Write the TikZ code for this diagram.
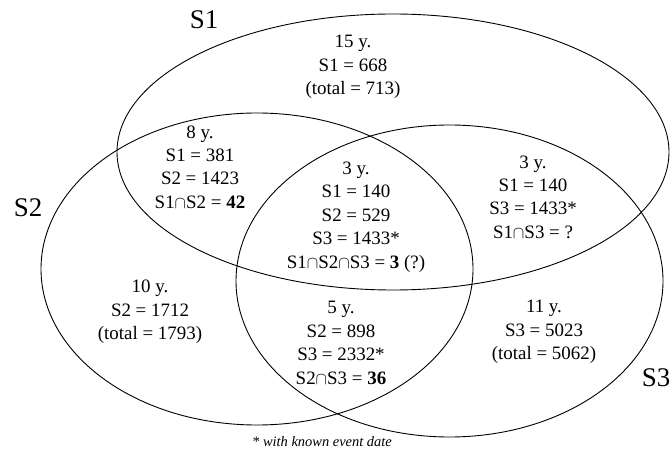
\documentclass[tikz,border=0pt]{standalone}
\usepackage{fontspec}
\setmainfont{Liberation Serif}
\begin{document}
\begin{tikzpicture}[x=1bp,y=-1bp,font=\fontsize{19}{23.5}\selectfont,
  region/.style={align=center,inner sep=0pt},
  setlabel/.style={font=\fontsize{27}{30}\selectfont,inner sep=0pt}]
  \useasboundingbox (0,0) rectangle (670,450);
  % the three sets
  \foreach \cx/\cy/\rx/\ry in {393/152/276/138,257/269/216/156,449.5/281/213.5/156}
    \draw[line width=0.9bp] (\cx,\cy) ellipse [x radius=\rx, y radius=\ry];
  \node[setlabel] (labA) at (204,20) {S1};
  \node[setlabel] (labB) at (28,208) {S2};
  \node[setlabel] (labC) at (656,378) {S3};
  % counts per region
  \foreach \n/\x/\y/\txt in {
    onlyA/353/67/{15 y.\\S1 = 668\\(total = 713)},
    AB/200/167/{8 y.\\S1 = 381\\S2 = 1423\\S1$\cap$S2 = \textbf{42}},
    ABC/356/217/{3 y.\\S1 = 140\\S2 = 529\\S3 = 1433*\\S1$\cap$S2$\cap$S3 = \textbf{3} (?)},
    AC/533/197/{3 y.\\S1 = 140\\S3 = 1433*\\S1$\cap$S3 = ?},
    onlyB/150/312/{10 y.\\S2 = 1712\\(total = 1793)},
    BC/341/343/{5 y.\\S2 = 898\\S3 = 2332*\\S2$\cap$S3 = \textbf{36}},
    onlyC/544/332/{11 y.\\S3 = 5023\\(total = 5062)}}
    \node[region] (\n) at (\x,\y) {\txt};
  \node[font=\itshape\fontsize{14.5}{16}\selectfont,inner sep=0pt] (note) at (322,442) {* with known event date};
\end{tikzpicture}
\end{document}
